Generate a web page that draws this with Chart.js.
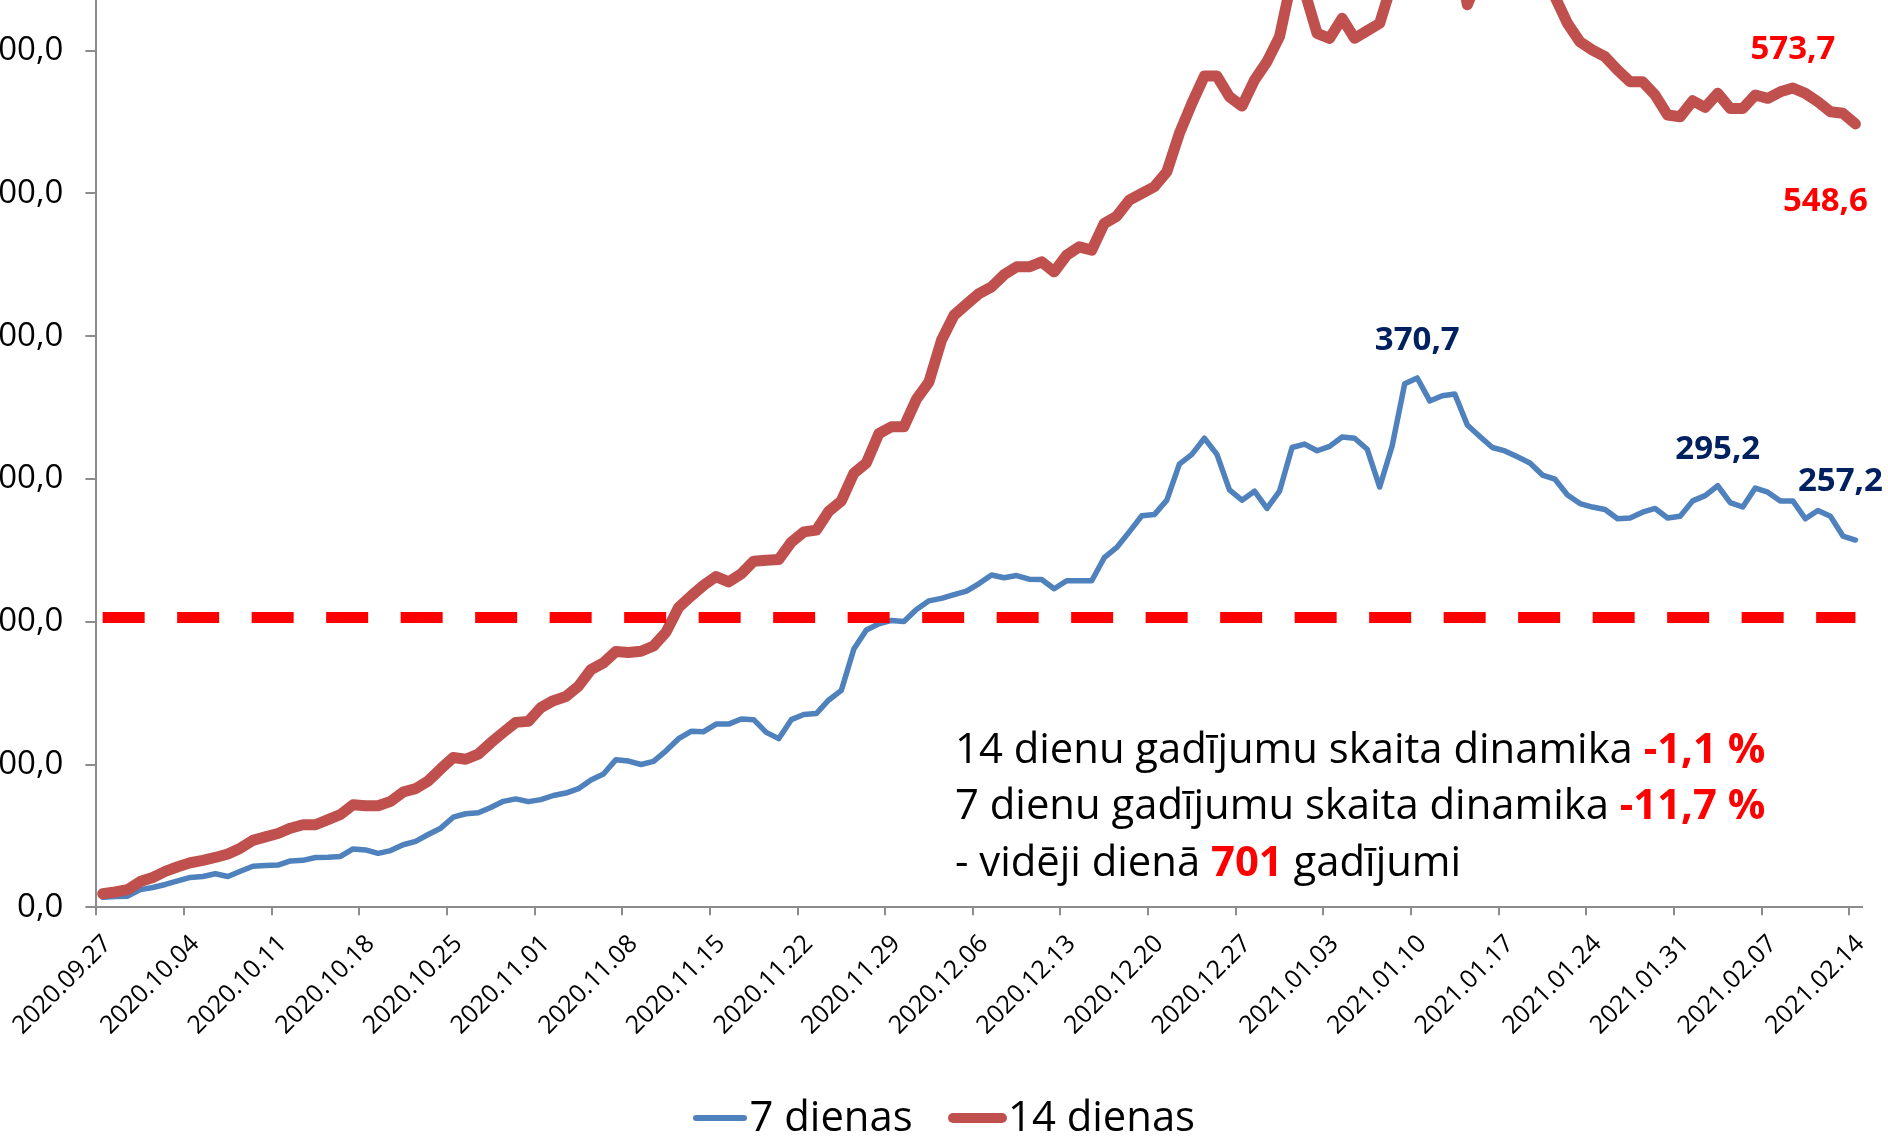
<!DOCTYPE html>
<html>
<head>
<meta charset="utf-8">
<script src="https://cdn.jsdelivr.net/npm/chart.js@4/dist/chart.umd.min.js"></script>
<style>
html,body{margin:0;padding:0;background:#fff;}
#wrap{position:relative;width:1888px;height:1138px;overflow:hidden;background:#fff;}
#c{position:absolute;left:0;top:-150px;}
.txt{position:absolute;font-family:'Open Sans',sans-serif;font-size:41.8px;line-height:56.7px;color:#000;white-space:nowrap;}
.txt b{color:#ff0000;font-weight:700;}
.legline{position:absolute;}
</style>
</head>
<body>
<div id="wrap">
<canvas id="c" width="1888" height="1288"></canvas>
<div class="txt" style="left:955px;top:718.6px;">14 dienu gadījumu skaita dinamika <b>-1,1 %</b><br>7 dienu gadījumu skaita dinamika <b>-11,7 %</b><br>- vidēji dienā <b>701</b> gadījumi</div>
<div class="legline" style="left:693px;top:1114.9px;width:54px;height:5.7px;border-radius:3px;background:#4F81BD;"></div>
<div class="txt" style="left:749.5px;top:1087px;">7 dienas</div>
<div class="legline" style="left:948.2px;top:1112.6px;width:58.8px;height:10.7px;border-radius:5.4px;background:#C0504D;"></div>
<div class="txt" style="left:1008px;top:1087px;">14 dienas</div>
</div>
<script>
const categories = [
"2020.09.27","2020.09.28","2020.09.29","2020.09.30",
"2020.10.01","2020.10.02","2020.10.03","2020.10.04","2020.10.05","2020.10.06","2020.10.07","2020.10.08","2020.10.09","2020.10.10",
"2020.10.11","2020.10.12","2020.10.13","2020.10.14","2020.10.15","2020.10.16","2020.10.17","2020.10.18","2020.10.19","2020.10.20",
"2020.10.21","2020.10.22","2020.10.23","2020.10.24","2020.10.25","2020.10.26","2020.10.27","2020.10.28","2020.10.29","2020.10.30","2020.10.31",
"2020.11.01","2020.11.02","2020.11.03","2020.11.04","2020.11.05","2020.11.06","2020.11.07","2020.11.08","2020.11.09","2020.11.10",
"2020.11.11","2020.11.12","2020.11.13","2020.11.14","2020.11.15","2020.11.16","2020.11.17","2020.11.18","2020.11.19","2020.11.20",
"2020.11.21","2020.11.22","2020.11.23","2020.11.24","2020.11.25","2020.11.26","2020.11.27","2020.11.28","2020.11.29","2020.11.30",
"2020.12.01","2020.12.02","2020.12.03","2020.12.04","2020.12.05","2020.12.06","2020.12.07","2020.12.08","2020.12.09","2020.12.10",
"2020.12.11","2020.12.12","2020.12.13","2020.12.14","2020.12.15","2020.12.16","2020.12.17","2020.12.18","2020.12.19","2020.12.20",
"2020.12.21","2020.12.22","2020.12.23","2020.12.24","2020.12.25","2020.12.26","2020.12.27","2020.12.28","2020.12.29","2020.12.30","2020.12.31",
"2021.01.01","2021.01.02","2021.01.03","2021.01.04","2021.01.05","2021.01.06","2021.01.07","2021.01.08","2021.01.09","2021.01.10",
"2021.01.11","2021.01.12","2021.01.13","2021.01.14","2021.01.15","2021.01.16","2021.01.17","2021.01.18","2021.01.19","2021.01.20",
"2021.01.21","2021.01.22","2021.01.23","2021.01.24","2021.01.25","2021.01.26","2021.01.27","2021.01.28","2021.01.29","2021.01.30","2021.01.31",
"2021.02.01","2021.02.02","2021.02.03","2021.02.04","2021.02.05","2021.02.06","2021.02.07","2021.02.08","2021.02.09","2021.02.10",
"2021.02.11","2021.02.12","2021.02.13","2021.02.14"
];

const tickLabels = [
"2020.09.27","2020.10.04","2020.10.11","2020.10.18","2020.10.25","2020.11.01","2020.11.08",
"2020.11.15","2020.11.22","2020.11.29","2020.12.06","2020.12.13","2020.12.20","2020.12.27",
"2021.01.03","2021.01.10","2021.01.17","2021.01.24","2021.01.31","2021.02.07","2021.02.14"
];

const sevenDay = [
7.1, 7.5, 7.8, 12.4, 13.9, 16.0, 18.5, 20.9, 21.6, 23.5,
21.6, 25.2, 28.8, 29.3, 29.6, 32.5, 32.9, 34.9, 35.1, 35.6,
40.9, 40.2, 37.8, 39.7, 43.8, 46.2, 51.0, 55.4, 63.1, 65.5,
66.2, 69.9, 74.2, 75.9, 74.0, 75.4, 78.3, 80.0, 83.1, 89.2,
93.3, 103.4, 102.4, 100.0, 102.2, 109.6, 118.1, 123.2, 123.0, 128.3,
128.3, 131.9, 131.4, 122.5, 118.1, 131.4, 135.0, 135.7, 145.2, 151.9,
180.9, 194.2, 198.5, 200.9, 200.2, 208.6, 214.6, 216.3, 219.0, 221.4,
226.7, 232.7, 230.8, 232.3, 229.8, 229.6, 223.1, 228.7, 228.7, 228.7,
244.8, 252.0, 262.9, 274.2, 275.0, 285.1, 310.4, 317.2, 328.5, 317.2,
292.3, 285.1, 291.4, 279.3, 291.4, 322.0, 324.4, 319.7, 322.8, 329.3,
328.5, 320.8, 294.3, 323.2, 366.7, 370.7, 354.6, 358.2, 359.4, 337.7,
329.7, 322.0, 319.6, 315.5, 311.2, 302.7, 299.8, 288.7, 282.7, 280.3,
278.6, 272.1, 272.6, 276.7, 279.3, 272.6, 273.8, 284.6, 288.3, 295.2,
283.4, 280.3, 293.6, 290.7, 284.6, 284.6, 272.1, 277.9, 273.8, 260.0,
257.2
];

const fourteenDay = [
9.5, 10.7, 12.4, 18.0, 20.9, 25.2, 28.4, 31.2, 32.9, 34.9,
37.3, 41.4, 46.9, 49.3, 51.7, 55.4, 57.8, 57.8, 61.4, 65.0,
71.8, 71.1, 71.1, 74.2, 80.7, 83.1, 88.4, 96.9, 104.9, 103.7,
107.3, 115.2, 122.5, 129.5, 130.2, 139.8, 144.7, 147.6, 154.8, 166.4,
171.2, 179.2, 178.4, 179.3, 183.0, 192.7, 209.9, 218.0, 225.5, 231.6,
227.9, 233.5, 242.4, 243.1, 243.6, 255.7, 262.9, 264.1, 277.4, 284.6,
303.9, 311.2, 331.7, 336.5, 336.5, 355.8, 367.9, 397.1, 414.6, 422.3,
429.8, 434.5, 443.0, 448.5, 448.5, 452.0, 445.0, 456.7, 462.5, 460.2,
478.9, 484.0, 495.2, 499.9, 504.6, 515.1, 541.9, 563.0, 582.1, 582.1,
567.6, 561.1, 579.3, 592.2, 609.7, 650.5, 641.6, 612.0, 608.5, 622.5,
608.5, 613.8, 619.0, 647.6, 686.4, 693.5, 683.9, 686.7, 680.2, 632.0,
652.9, 688.7, 690.3, 670.1, 669.4, 662.1, 637.5, 619.0, 606.0, 600.3,
595.7, 586.3, 578.1, 578.1, 568.8, 554.8, 553.6, 564.8, 560.1, 570.0,
559.4, 559.4, 568.8, 566.5, 571.1, 573.7, 570.0, 564.1, 557.1, 556.0,
548.6
];

const thresholdLevel = 203;
const thresholdLine = categories.map(() => thresholdLevel);

const yMin = 0, yMax = 700, yStep = 100;

// value labels shown on the chart (which point, where the text sits relative to it)
const valueLabels = [
  {series: "7 dienas",  date: "2021.01.10", dx: 0,   dy: -37.5, color: "#002060"},
  {series: "7 dienas",  date: "2021.02.03", dx: 0,   dy: -36.5, color: "#002060"},
  {series: "7 dienas",  date: "2021.02.14", dx: -15, dy: -58.5, color: "#002060"},
  {series: "14 dienas", date: "2021.02.09", dx: 0,   dy: -38.5, color: "#FF0000"},
  {series: "14 dienas", date: "2021.02.14", dx: -30, dy: 77.5,  color: "#FF0000"}
];

const fmt = v => Number(v).toFixed(1).replace('.', ',');
const AXIS = '#8c8c8c';
const FONT = "'Open Sans', sans-serif";

const valueLabelPlugin = {
  id: 'valueLabels',
  afterDatasetsDraw(chart) {
    const {ctx, scales: {x, y}} = chart;
    ctx.save();
    ctx.font = "bold 33px 'Open Sans', sans-serif";
    ctx.textAlign = 'center';
    ctx.textBaseline = 'middle';
    valueLabels.forEach(l => {
      const ds = chart.data.datasets.find(d => d.label === l.series);
      const idx = categories.indexOf(l.date);
      const v = ds.data[idx];
      ctx.fillStyle = l.color;
      ctx.fillText(fmt(v), x.getPixelForValue(idx) + l.dx, y.getPixelForValue(v) + l.dy);
    });
    ctx.restore();
  }
};

function draw() {
  new Chart(document.getElementById('c'), {
    type: 'line',
    data: {
      labels: categories,
      datasets: [
        {label: 'slieksnis', data: thresholdLine, borderColor: '#FF0000', borderWidth: 11,
         borderDash: [42, 32.5], borderCapStyle: 'butt', pointRadius: 0, fill: false, order: 0, tension: 0},
        {label: '14 dienas', data: fourteenDay, borderColor: '#C0504D', borderWidth: 11,
         borderCapStyle: 'round', borderJoinStyle: 'round', pointRadius: 0, fill: false, order: 1, tension: 0},
        {label: '7 dienas', data: sevenDay, borderColor: '#4F81BD', borderWidth: 5.5,
         borderCapStyle: 'round', borderJoinStyle: 'round', pointRadius: 0, fill: false, order: 2, tension: 0}
      ]
    },
    options: {
      responsive: false,
      animation: false,
      devicePixelRatio: 1,
      layout: {padding: {top: 57.7, right: 26.3, left: 0, bottom: 0}},
      plugins: {legend: {display: false}, tooltip: {enabled: false}},
      scales: {
        x: {
          type: 'category',
          offset: true,
          grid: {
            offset: true, drawOnChartArea: false, drawTicks: true, tickLength: 8, lineWidth: 2,
            color: c => tickLabels.includes(categories[c.index]) ? AXIS : 'rgba(0,0,0,0)'
          },
          border: {display: true, color: AXIS, width: 2},
          ticks: {
            autoSkip: false, maxRotation: 45, minRotation: 45, padding: 14, labelOffset: 5,
            color: '#000', font: {family: FONT, size: 25},
            callback: (v, i) => tickLabels.includes(categories[i]) ? categories[i] : ''
          },
          afterFit: s => { s.height = 230.7; s.paddingLeft = 0; s.paddingRight = 0; }
        },
        y: {
          min: yMin, max: yMax,
          grid: {drawOnChartArea: false, tickLength: 11, lineWidth: 2, color: AXIS},
          border: {display: true, color: AXIS, width: 2},
          ticks: {stepSize: yStep, padding: 22, color: '#000', font: {family: FONT, size: 33}, callback: v => fmt(v)},
          afterFit: s => { s.width = 96.4; }
        }
      }
    },
    plugins: [valueLabelPlugin]
  });
}

Promise.all([
  document.fonts.load("25px 'Open Sans'"),
  document.fonts.load("bold 33px 'Open Sans'")
]).then(draw, draw);
</script>
</body>
</html>
